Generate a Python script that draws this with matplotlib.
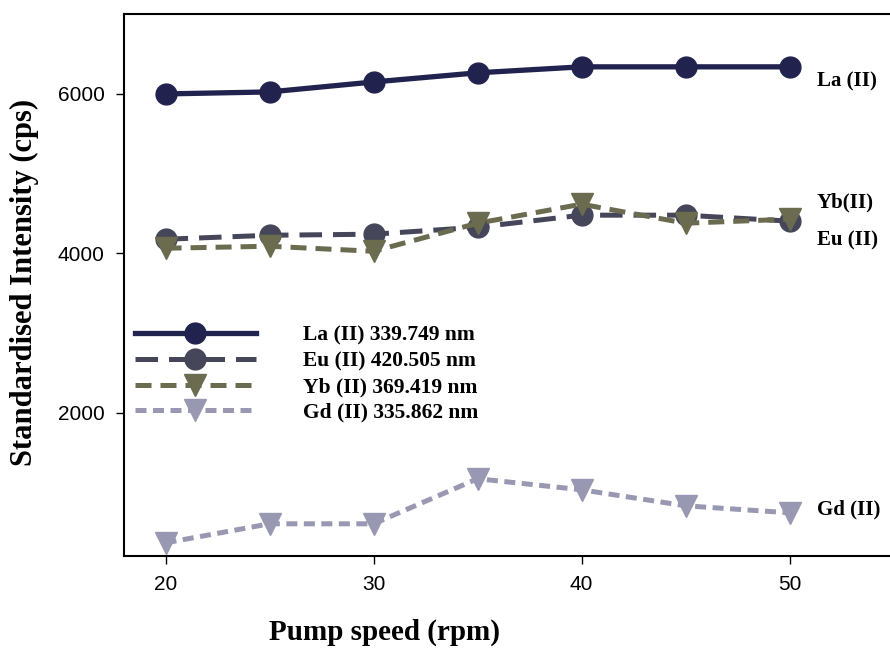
import matplotlib
matplotlib.use("Agg")
import matplotlib.pyplot as plt

# Pump speed (rpm)
pump_speed = [20, 25, 30, 35, 40, 45, 50]

# Standardised intensity (cps)
la_ii = [6000, 6025, 6150, 6265, 6340, 6340, 6340]
eu_ii = [4176, 4226, 4239, 4327, 4478, 4478, 4403]
yb_ii = [4063, 4088, 4025, 4377, 4616, 4377, 4428]
gd_ii = [365, 604, 604, 1170, 1031, 830, 742]

legend_labels = ['La (II) 339.749 nm', 'Eu (II) 420.505 nm',
                 'Yb (II) 369.419 nm', 'Gd (II) 335.862 nm']
end_labels = ['La (II)', 'Eu (II)', 'Yb(II)', 'Gd (II)']
end_label_y = [6150, 4160, 4640, 780]

serif = ['Liberation Serif', 'DejaVu Serif']
sans = ['Liberation Sans', 'DejaVu Sans']

fig = plt.figure(figsize=(8.9, 6.48), dpi=100)
ax = fig.add_axes([0.1393, 0.142, 0.888, 0.836])

ax.plot(pump_speed, la_ii, color='#22224f', linewidth=3.8, marker='o',
        markersize=15, label=legend_labels[0])
ax.plot(pump_speed, eu_ii, color='#46465a', linewidth=3.6, marker='o',
        markersize=15, dashes=(4.5, 2.2), label=legend_labels[1])
ax.plot(pump_speed, yb_ii, color='#6b6b50', linewidth=3.6, marker='v',
        markersize=16, dashes=(3.2, 1.8), label=legend_labels[2])
ax.plot(pump_speed, gd_ii, color='#9898b2', linewidth=3.6, marker='v',
        markersize=16, dashes=(2.2, 1.3), label=legend_labels[3])

# Labels at the right end of each series
for lbl, yv in zip(end_labels, end_label_y):
    ax.text(51.3, yv, lbl, fontsize=15, fontweight='bold', family=serif,
            ha='left', va='center')

ax.set_xlim(18, 56)
ax.set_ylim(200, 7000)
ax.set_xticks([20, 30, 40, 50])
ax.set_yticks([2000, 4000, 6000])
ax.tick_params(direction='out', length=6, width=1, labelsize=15, pad=8)
for t in ax.get_xticklabels() + ax.get_yticklabels():
    t.set_family(sans)

ax.set_xlabel('Pump speed (rpm)', fontsize=21, fontweight='bold', family=serif)
ax.set_ylabel('Standardised Intensity (cps)', fontsize=22, fontweight='bold', family=serif)
ax.xaxis.set_label_coords(0.33, -0.115)
ax.yaxis.set_label_coords(-0.108, 0.505)

for side in ['left', 'bottom', 'top', 'right']:
    ax.spines[side].set_linewidth(1.5)

leg = ax.legend(loc='upper left', bbox_to_anchor=(0.014, 0.425), frameon=False,
                handlelength=5.6, handletextpad=2.2, labelspacing=0.26,
                borderpad=0, borderaxespad=0,
                prop={'family': serif, 'weight': 'bold', 'size': 15.5})

fig.savefig('out.png', dpi=100)
plt.close(fig)
